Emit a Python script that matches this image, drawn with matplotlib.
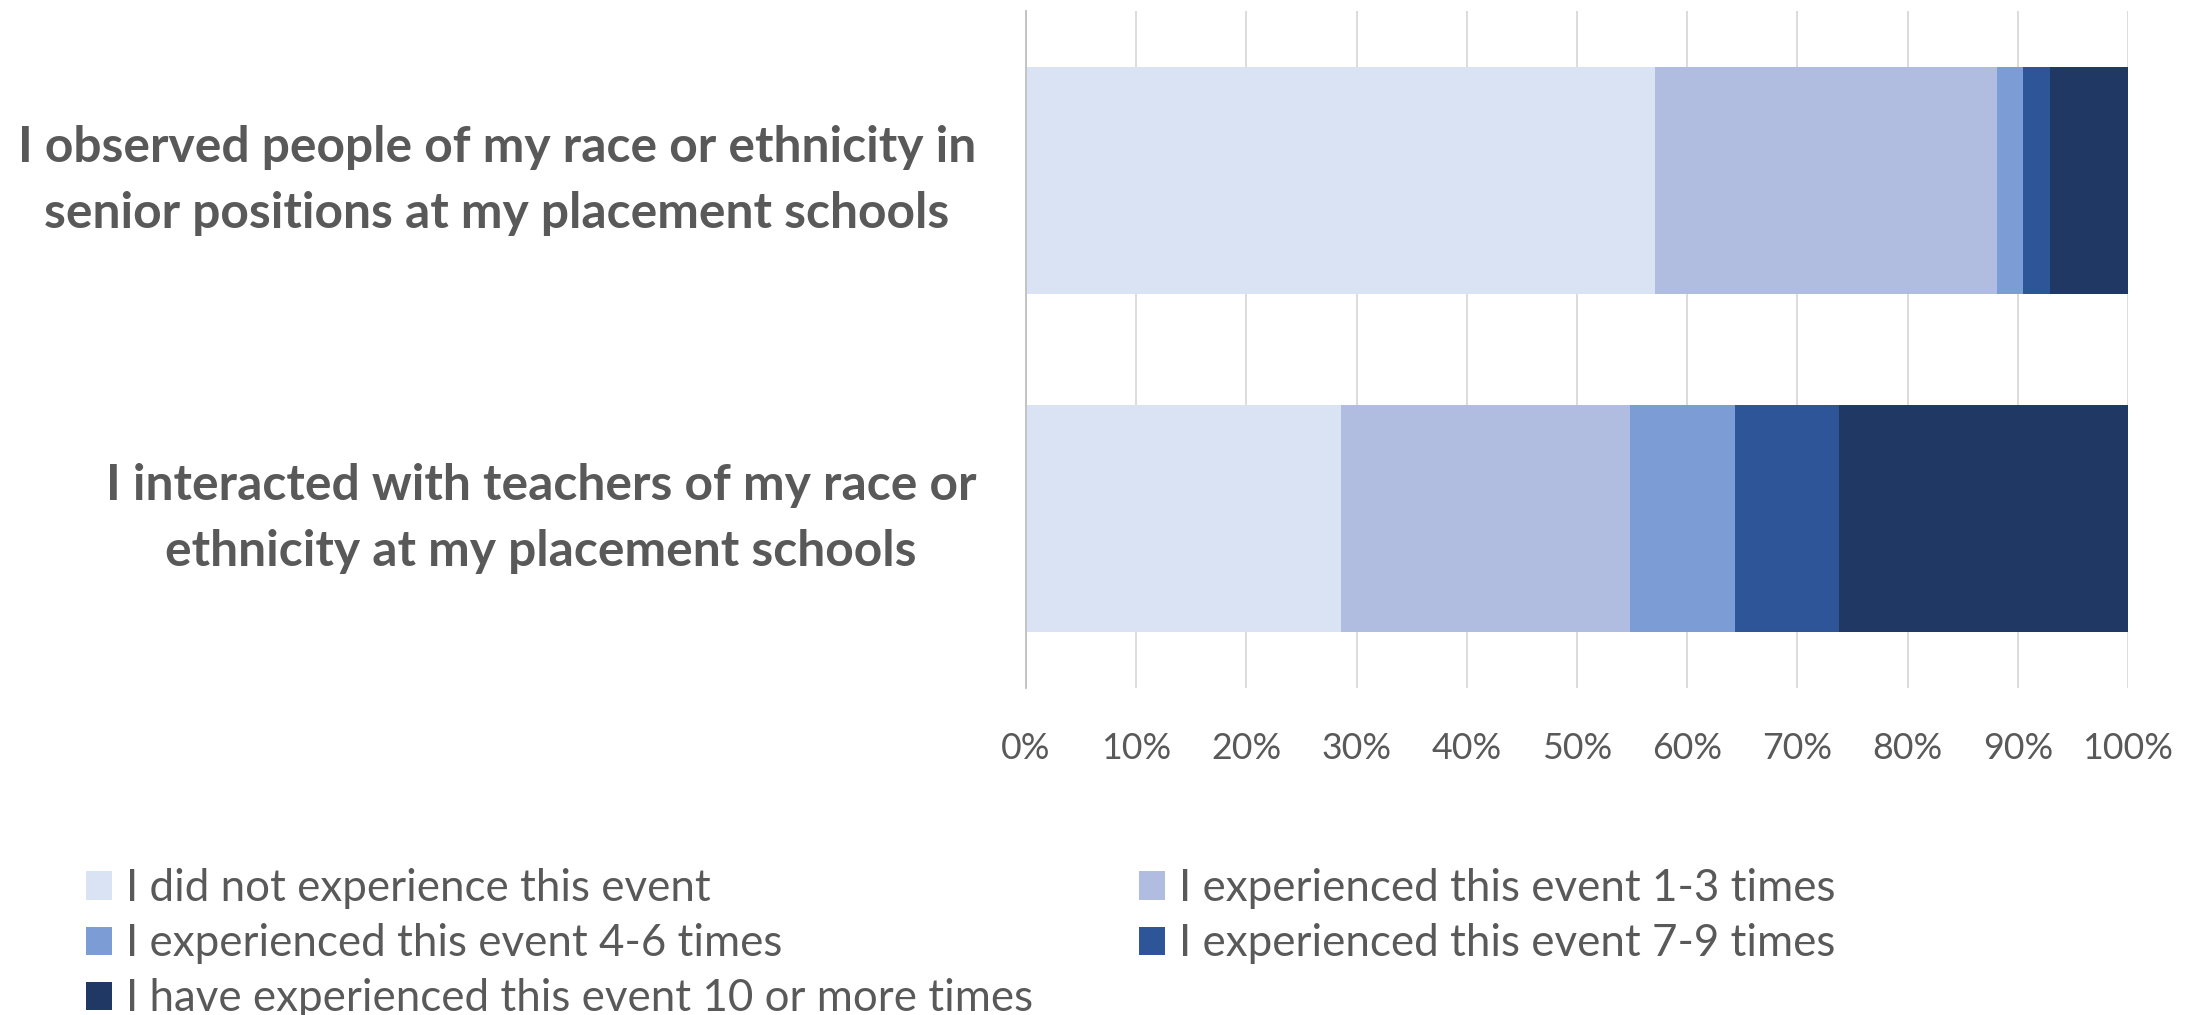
import matplotlib
matplotlib.use("Agg")
import matplotlib.pyplot as plt
from matplotlib import font_manager as fm
from matplotlib.patches import Patch
from matplotlib.transforms import ScaledTranslation

# ---------------- data ----------------
categories = [
    "I observed people of my race or ethnicity in\nsenior positions at my placement schools",
    "I interacted with teachers of my race or\nethnicity at my placement schools",
]
series_names = [
    "I did not experience this event",
    "I experienced this event 1-3 times",
    "I experienced this event 4-6 times",
    "I experienced this event 7-9 times",
    "I have experienced this event 10 or more times",
]
did_not = [57.1, 28.6]
times_1_3 = [31.0, 26.2]
times_4_6 = [2.4, 9.5]
times_7_9 = [2.4, 9.5]
times_10_plus = [7.1, 26.2]
x_ticks = [0, 10, 20, 30, 40, 50, 60, 70, 80, 90, 100]
x_tick_labels = [f"{t}%" for t in x_ticks]

series_values = [did_not, times_1_3, times_4_6, times_7_9, times_10_plus]
colors = ["#DAE3F3", "#B0BDE0", "#7B9CD4", "#2E5597", "#1F3864"]
TXT = "#595959"

names = {f.name for f in fm.fontManager.ttflist}
main = "Liberation Sans Narrow" if "Liberation Sans Narrow" in names else "Lato"
FAM = [main, "DejaVu Sans"]
plt.rcParams["font.family"] = FAM

W, H = 2201, 1015
DPI = 100
fig = plt.figure(figsize=(W / DPI, H / DPI), dpi=DPI)
renderer = fig.canvas.get_renderer()


def fit(text, target_px, weight="normal", base=30.0):
    t = fig.text(0, 0, text, fontsize=base, fontweight=weight, family=FAM)
    w = t.get_window_extent(renderer=renderer).width
    t.remove()
    return base * target_px / w


ysize = fit("I observed people of my race or ethnicity in", 958, "bold")
tsize = fit("100%", 91)
lsize = fit("I experienced this event 1-3 times", 655)

ax_left, ax_right, ax_top, ax_bot = 1026, 2128, 11, 688
ax = fig.add_axes([ax_left / W, 1 - ax_bot / H, (ax_right - ax_left) / W, (ax_bot - ax_top) / H])

y = list(range(len(categories)))
left = [0.0] * len(categories)
handles = []
for name, vals, c in zip(series_names, series_values, colors):
    ax.barh(y, vals, left=left, height=0.67, color=c, edgecolor="none", zorder=3, label=name)
    left = [l + v for l, v in zip(left, vals)]
    handles.append(Patch(facecolor=c, edgecolor="none"))

ax.set_xlim(0, 100)
ax.set_ylim(1.5, -0.5)
ax.set_xticks(x_ticks)
ax.set_xticklabels(x_tick_labels, fontsize=tsize, color=TXT)
ax.set_yticks(y)
ax.set_yticklabels(categories, fontsize=ysize, fontweight="bold", color=TXT, linespacing=1.57)
shift = ScaledTranslation(0, -3 / DPI, fig.dpi_scale_trans)
for lbl in ax.get_yticklabels():
    lbl.set_ha("right")
    lbl.set_va("center")
    lbl.set_multialignment("center")
    lbl.set_transform(lbl.get_transform() + shift)
ax.tick_params(axis="y", length=0, pad=(ax_left - 976) * 72 / DPI)
ax.tick_params(axis="x", length=0, pad=32)
ax.xaxis.grid(True, color="#D9D9D9", lw=1.3, zorder=0)
ax.set_axisbelow(True)
for s in ["top", "right", "bottom"]:
    ax.spines[s].set_visible(False)
ax.spines["left"].set_color("#BFBFBF")
ax.spines["left"].set_linewidth(1.3)
ax.spines["left"].set_zorder(4)

fs_px = lsize * DPI / 72
common = dict(
    loc="upper left", frameon=False, fontsize=lsize, labelcolor=TXT,
    handlelength=26 / fs_px, handleheight=27 / fs_px, handletextpad=14 / fs_px,
    labelspacing=0.22 + 4.5 / fs_px, borderpad=0, borderaxespad=0,
)
top_y = 868
leg1 = fig.legend([handles[i] for i in (0, 2, 4)], [series_names[i] for i in (0, 2, 4)],
                  bbox_to_anchor=(86 / W, 1 - top_y / H), **common)
leg2 = fig.legend([handles[i] for i in (1, 3)], [series_names[i] for i in (1, 3)],
                  bbox_to_anchor=(1139 / W, 1 - top_y / H), **common)

fig.savefig("out.png", dpi=DPI)
